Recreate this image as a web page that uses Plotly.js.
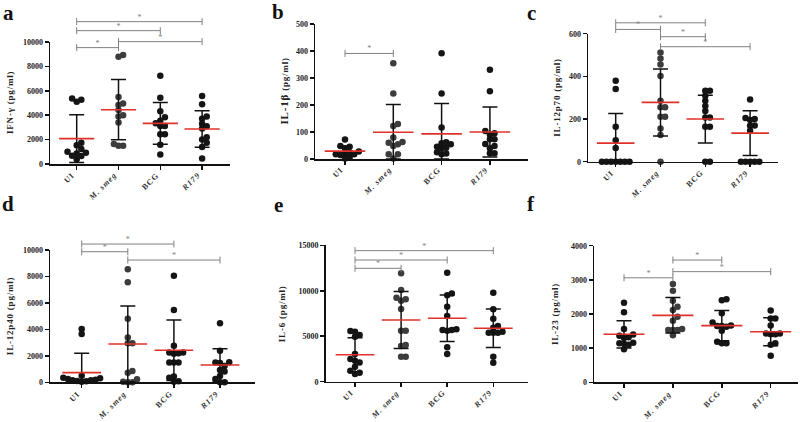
<!DOCTYPE html>
<html><head><meta charset="utf-8">
<script src="https://cdn.plot.ly/plotly-3.0.1.min.js"></script>
<style>
html,body{margin:0;padding:0;background:#fff}
#chart{width:800px;height:422px}
</style>
</head><body><div id="chart"></div>
<script>
// ---------- data ----------
const groups = ['UI', 'M. smeg', 'BCG', 'R179'];
const tickLabels = ['UI', '<i>M. smeg</i>', 'BCG', '<i>R179</i>'];

// a: IFN-gamma (pg/ml)
const ifngUI    = [5270, 5110, 5360, 1750, 1530, 1230, 1000, 930, 870, 680, 660, 380];
const ifngSmeg  = [8930, 8800, 5490, 4950, 4840, 4430, 4000, 3900, 3400, 1640, 1500, 1500];
const ifngBCG   = [7240, 5440, 4320, 3830, 3550, 3330, 3110, 3110, 2430, 2430, 1580, 770];
const ifngR179  = [5570, 4890, 3900, 3700, 3300, 3100, 2900, 2200, 2000, 1750, 1400, 450];
const ifngMean  = [2080, 4450, 3330, 2870];
const ifngSD    = [1950, 2470, 1720, 1500];

// b: IL-1beta (pg/ml)
const il1bUI    = [72, 48, 45, 40, 28, 25, 22, 18, 18, 15, 5, 2];
const il1bSmeg  = [355, 243, 130, 122, 80, 63, 60, 55, 48, 18, 18, 2];
const il1bBCG   = [392, 243, 117, 62, 58, 55, 45, 42, 40, 25, 20, 18];
const il1bR179  = [331, 251, 104, 95, 90, 73, 73, 56, 48, 40, 21, 21];
const il1bMean  = [29, 99, 93, 100];
const il1bSD    = [17, 103, 113, 93];

// c: IL-12p70 (pg/ml)
const p70UI     = [380, 341, 164, 100, 64, 0, 0, 0, 0, 0, 0, 0];
const p70Smeg   = [512, 484, 456, 402, 286, 255, 255, 211, 211, 156, 125, 0];
const p70BCG    = [333, 333, 309, 286, 261, 238, 207, 207, 164, 164, 0, 0];
const p70R179   = [292, 205, 200, 195, 170, 168, 145, 0, 0, 0, 0, 0];
const p70Mean   = [87, 278, 200, 134];
const p70SD     = [139, 157, 112, 105];

// d: IL-12p40 (pg/ml)
const p40UI     = [4030, 3650, 500, 350, 300, 250, 200, 150, 150, 100, 80, 50];
const p40Smeg   = [8540, 7560, 4810, 3380, 2950, 2950, 860, 730, 230, 50, 0, 0];
const p40BCG    = [8060, 5470, 2770, 2250, 2200, 2150, 2250, 1500, 1500, 1500, 430, 350, 80, 50];
const p40R179   = [4460, 2390, 1520, 1490, 1450, 1230, 930, 810, 480, 250, 0, 0];
const p40Mean   = [730, 2900, 2420, 1310];
const p40SD     = [1460, 2870, 2290, 1230];

// e: IL-6 (pg/ml)
const il6UI     = [5570, 5500, 5130, 4950, 3040, 2490, 2310, 2100, 1650, 1210, 990, 840];
const il6Smeg   = [11920, 10080, 9240, 9060, 8910, 7990, 5610, 5610, 4030, 3920, 2750, 2750];
const il6BCG    = [11990, 9700, 9500, 8250, 7220, 5760, 5680, 5680, 5600, 3780, 3040];
const il6R179   = [9790, 7960, 6930, 6120, 5940, 5500, 5390, 5390, 5390, 2750, 2090];
const il6Mean   = [2970, 6780, 6970, 5870];
const il6SD     = [1870, 3140, 2560, 2120];

// f: IL-23 (pg/ml)
const il23UI    = [2330, 2050, 1560, 1400, 1360, 1320, 1300, 1160, 1140, 1130, 1100, 970];
const il23Smeg  = [2880, 2680, 2390, 2210, 2120, 1920, 1800, 1560, 1530, 1530, 1530, 1380];
const il23BCG   = [2430, 2400, 2020, 1750, 1660, 1650, 1650, 1630, 1510, 1190, 1140, 1140];
const il23R179  = [2100, 1870, 1870, 1660, 1430, 1430, 1410, 1410, 1140, 1100, 780];
const il23Mean  = [1405, 1960, 1660, 1480];
const il23SD    = [400, 520, 440, 410];

// significance comparisons: [group A, group B]
const ifngSig = [[0, 3], [0, 2], [1, 3], [0, 1]];
const il1bSig = [[0, 1]];
const p70Sig  = [[0, 2], [0, 1], [1, 2], [1, 3]];
const p40Sig  = [[0, 2], [0, 1], [1, 3]];
const il6Sig  = [[0, 3], [0, 2], [0, 1]];
const il23Sig = [[1, 2], [1, 3], [0, 1]];

// ---------- layout (pixel geometry of each panel) ----------
const W = 800, H = 422;
const panels = [
  {letter:'a', title:'IFN-γ (pg/ml)', sets:[ifngUI,ifngSmeg,ifngBCG,ifngR179], mean:ifngMean, sd:ifngSD, sig:ifngSig,
   sigY:[11670,10930,10030,9540], xl:50, xr:230, c0:76.7, dc:41.8, y0:164, yt:42, top:10000, dtick:2000, ysig:4, tOff:40, lx:8, ly:13},
  {letter:'b', title:'<span style="font-size:11px">IL-1β</span> (pg/ml)', sets:[il1bUI,il1bSmeg,il1bBCG,il1bR179], mean:il1bMean, sd:il1bSD, sig:il1bSig,
   sigY:[391], xl:315, xr:528, c0:345, dc:48.3, y0:159, yt:24, top:500, dtick:100, ysig:4, tOff:32, lx:278, ly:12},
  {letter:'c', title:'IL-12p70 (pg/ml)', sets:[p70UI,p70Smeg,p70BCG,p70R179], mean:p70Mean, sd:p70SD, sig:p70Sig,
   sigY:[651,620,586,539], xl:588, xr:778, c0:615.7, dc:44.8, y0:161.7, yt:33.7, top:600, dtick:200, ysig:4, tOff:31, lx:531, ly:13},
  {letter:'d', title:'IL-12p40 (pg/ml)', sets:[p40UI,p40Smeg,p40BCG,p40R179], mean:p40Mean, sd:p40SD, sig:p40Sig,
   sigY:[10450,9870,9240], xl:50, xr:255, c0:81.7, dc:46.1, y0:382.3, yt:250, top:10000, dtick:2000, ysig:214, tOff:40, lx:8, ly:204},
  {letter:'e', title:'IL-6 (pg/ml)', sets:[il6UI,il6Smeg,il6BCG,il6R179], mean:il6Mean, sd:il6SD, sig:il6Sig,
   sigY:[14410,13380,12470], xl:325.7, xr:528, c0:355, dc:46.1, y0:381.7, yt:245.3, top:15000, dtick:5000, ysig:214, tOff:44, lx:278, ly:205},
  {letter:'f', title:'IL-23 (pg/ml)', sets:[il23UI,il23Smeg,il23BCG,il23R179], mean:il23Mean, sd:il23SD, sig:il23Sig,
   sigY:[3580,3240,3060], xl:594, xr:798, c0:624, dc:48.9, y0:382.3, yt:245.7, top:4000, dtick:1000, ysig:214, tOff:39, lx:531, ly:204}
];

const FONT = 'Liberation Serif, Times New Roman, serif';
const DOT = 6.5, STEP = 4.6;
const dotColors = ['#151515', '#3c3c3c', '#151515', '#151515'];

function swarm(vals, pxPerUnit, dc) {
  const idx = vals.map((v, i) => i).sort((a, b) => vals[a] - vals[b]);
  const placed = [], off = new Array(vals.length).fill(0);
  for (const i of idx) {
    const y = vals[i] * pxPerUnit;
    for (let k = 0; k < 60; k++) {
      const m = k === 0 ? 0 : (k % 2 ? Math.ceil(k / 2) : -k / 2);
      const x = m * STEP;
      if (placed.every(p => Math.hypot(p[0] - x, p[1] - y) >= STEP * 0.99)) {
        off[i] = x; placed.push([x, y]); break;
      }
    }
  }
  return off.map(o => o / dc);
}

const traces = [], layout = {
  width: W, height: H, margin: {l: 0, r: 0, t: 0, b: 0},
  paper_bgcolor: '#fff', plot_bgcolor: 'rgba(0,0,0,0)', showlegend: false,
  font: {family: FONT, color: '#111'}, annotations: []
};

panels.forEach((P, k) => {
  const n = k + 1;
  const xa = n === 1 ? 'x' : 'x' + n;
  const ym = (2 * n - 1) === 1 ? 'y' : 'y' + (2 * n - 1);
  const ys = 'y' + (2 * n);
  const pxPerUnit = (P.y0 - P.yt) / P.top;
  const sigTop = P.top * (P.y0 - P.ysig) / (P.y0 - P.yt);

  layout['xaxis' + (n === 1 ? '' : n)] = {
    domain: [P.xl / W, P.xr / W], anchor: ym,
    range: [(P.xl - P.c0) / P.dc, (P.xr - P.c0) / P.dc],
    tickmode: 'array', tickvals: [0, 1, 2, 3], showticklabels: false,
    ticks: 'outside', ticklen: 4, tickwidth: 1.5, tickcolor: '#111',
    showline: true, linecolor: '#111', linewidth: 1.5, showgrid: false, zeroline: false, fixedrange: true
  };
  layout['yaxis' + (2 * n - 1 === 1 ? '' : 2 * n - 1)] = {
    domain: [(H - P.y0) / H, (H - P.yt) / H], anchor: xa, range: [0, P.top],
    tickmode: 'linear', tick0: 0, dtick: P.dtick, tickformat: 'd',
    ticks: 'outside', ticklen: 4, tickwidth: 1.5, tickcolor: '#111',
    showline: true, linecolor: '#111', linewidth: 1.5, showgrid: false, zeroline: false,
    tickfont: {family: FONT, size: 8, weight: 'bold', color: '#222'}, fixedrange: true
  };
  layout['yaxis' + (2 * n)] = {
    domain: [(H - P.y0) / H, (H - P.ysig) / H], anchor: xa, range: [0, sigTop],
    visible: false, showgrid: false, zeroline: false, fixedrange: true
  };

  // dots
  P.sets.forEach((vals, g) => {
    const offs = swarm(vals, pxPerUnit, P.dc);
    traces.push({
      type: 'scatter', mode: 'markers', xaxis: xa, yaxis: ym, cliponaxis: false,
      x: vals.map((v, i) => g + offs[i]), y: vals, name: groups[g],
      marker: {size: DOT, color: dotColors[g], line: {width: 0}}, hoverinfo: 'y'
    });
  });

  // mean (red) + SD (black)
  traces.push({
    type: 'scatter', mode: 'markers', xaxis: xa, yaxis: ym, cliponaxis: false,
    x: [0, 1, 2, 3], y: P.mean,
    marker: {symbol: 'line-ew', size: 0.6 * P.dc, color: '#e0302a', line: {color: '#e0302a', width: 1.6}},
    error_y: {type: 'data', symmetric: false, array: P.sd, arrayminus: P.sd.map((s, i) => Math.min(s, P.mean[i])),
              visible: true, color: '#111', thickness: 1.5, width: 7.5}
  });

  // significance bars
  const sx = [], sy = [], mx = [], my = [];
  P.sig.forEach((pr, i) => {
    sx.push(pr[0], pr[1], null); sy.push(P.sigY[i], P.sigY[i], null);
    mx.push((pr[0] + pr[1]) / 2); my.push(P.sigY[i]);
  });
  traces.push({
    type: 'scatter', mode: 'lines+markers', xaxis: xa, yaxis: ys, cliponaxis: false,
    x: sx, y: sy, line: {color: '#808080', width: 1},
    marker: {symbol: 'line-ns', size: 5, color: '#808080', line: {color: '#808080', width: 1}}, hoverinfo: 'skip'
  });
  traces.push({
    type: 'scatter', mode: 'text', xaxis: xa, yaxis: ys, cliponaxis: false,
    x: mx, y: my, text: mx.map(() => '*'), textposition: 'top center',
    textfont: {family: FONT, size: 8, color: '#808080'}, hoverinfo: 'skip'
  });

  // rotated category labels
  tickLabels.forEach((t, g) => {
    layout.annotations.push({
      xref: xa, yref: 'paper', x: g, xshift: 3, y: (H - (P.y0 + 4)) / H,
      text: '<span style="letter-spacing:1px">' + t + '</span>', textangle: -45, showarrow: false,
      xanchor: 'right', yanchor: 'top',
      font: {family: FONT, size: 8, weight: 'bold', color: '#333'}
    });
  });

  // y title
  layout.annotations.push({
    xref: 'paper', yref: 'paper', x: (P.xl - P.tOff) / W, y: (H - (P.y0 + P.yt) / 2) / H,
    text: '<span style="letter-spacing:0.8px">' + P.title + '</span>', textangle: -90, showarrow: false,
    xanchor: 'center', yanchor: 'middle',
    font: {family: FONT, size: 9, weight: 'bold', color: '#222'}
  });
  // panel letter
  layout.annotations.push({
    xref: 'paper', yref: 'paper', x: P.lx / W, y: (H - P.ly) / H,
    text: P.letter, showarrow: false, xanchor: 'center', yanchor: 'middle',
    font: {family: FONT, size: 21, weight: 'bold', color: '#111'}
  });
});

Plotly.newPlot('chart', traces, layout, {displayModeBar: false, staticPlot: true});
</script>
</body></html>
